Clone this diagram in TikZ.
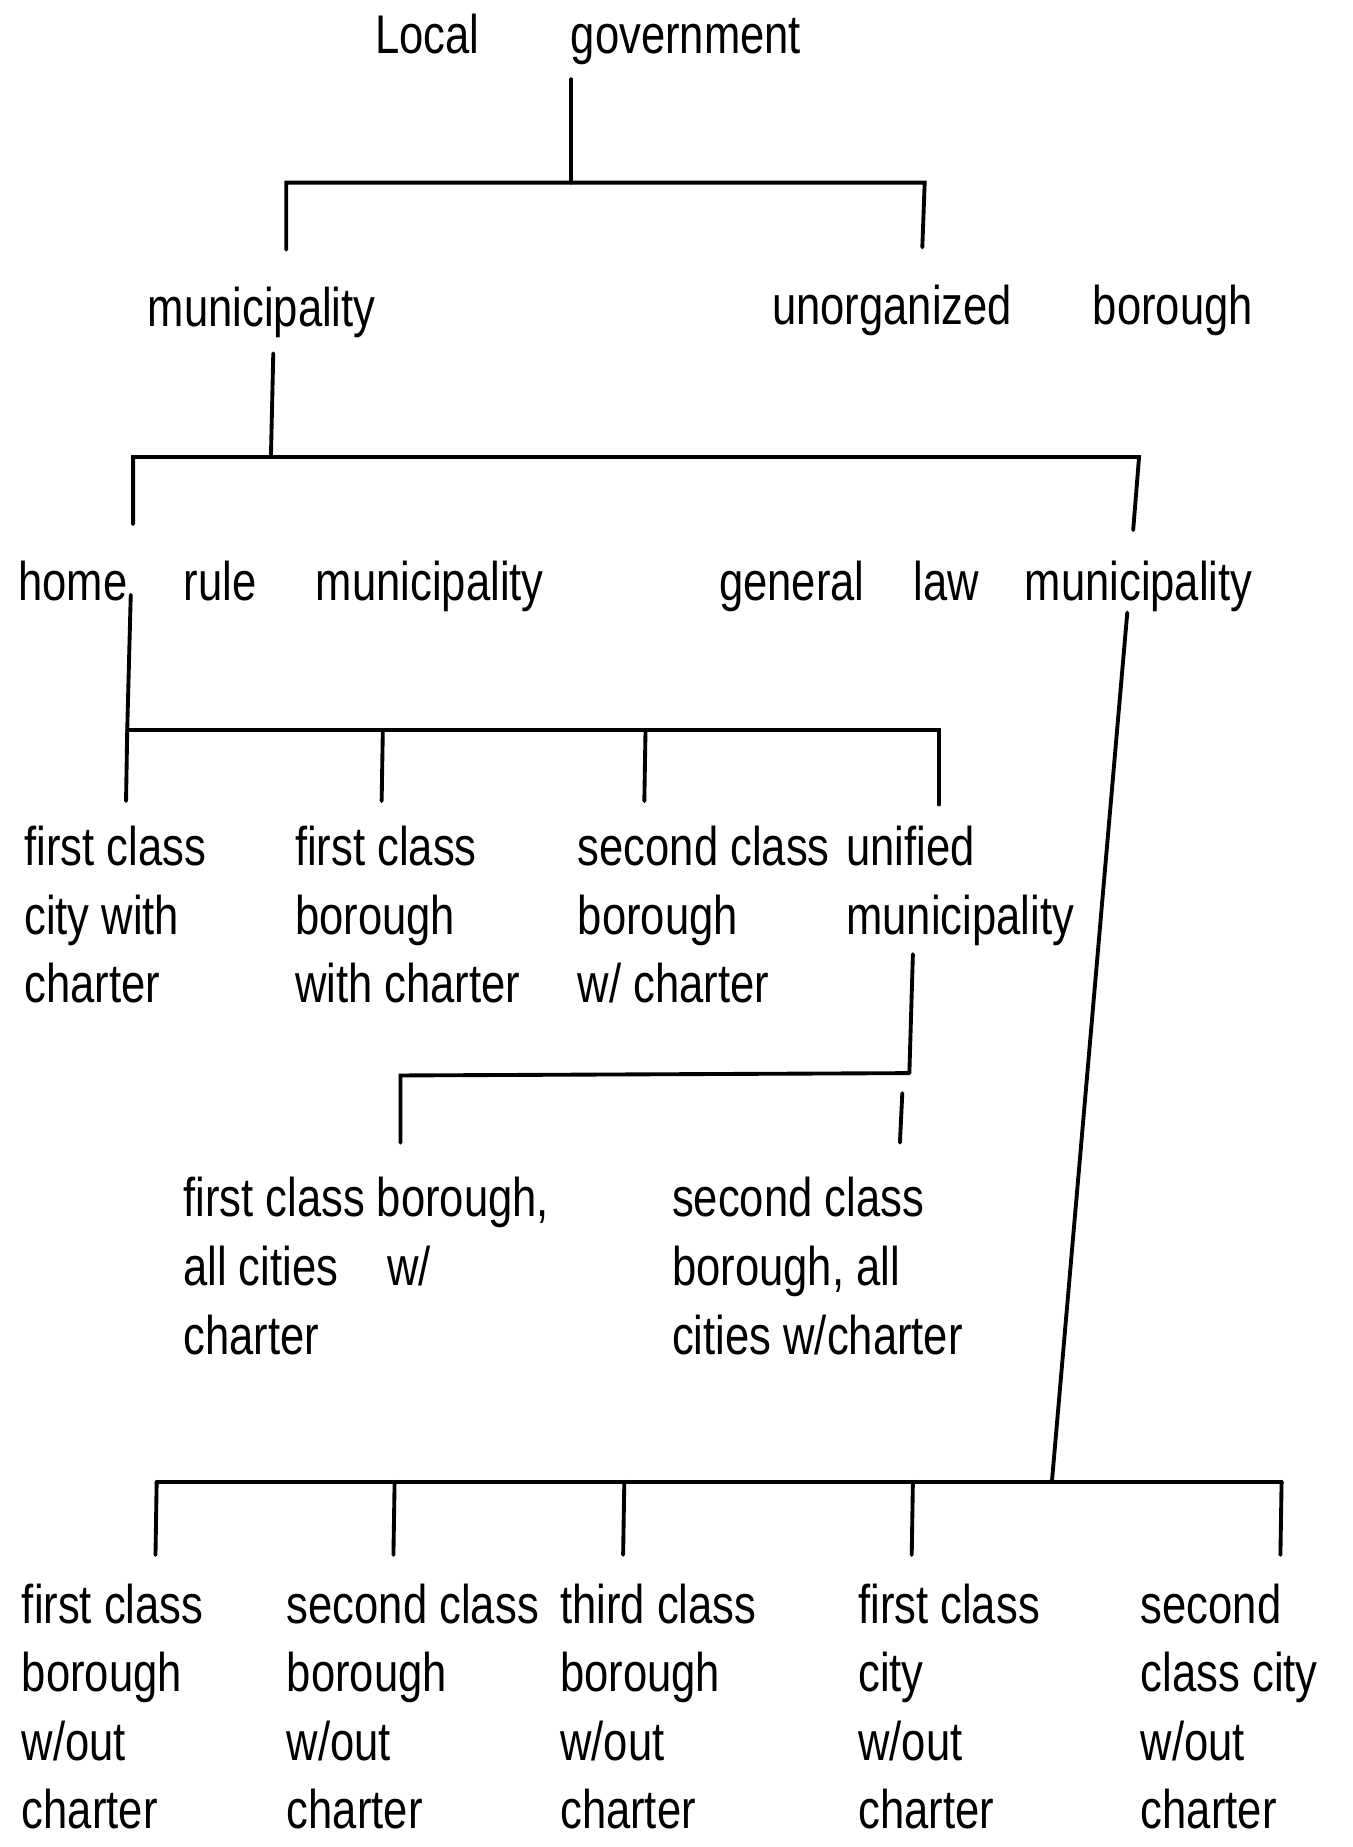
\documentclass[tikz,border=0pt]{standalone}
\usepackage{fontspec}
\setmainfont{Liberation Sans}[FakeStretch=0.8]
\usetikzlibrary{calc}

\begin{document}
\begin{tikzpicture}[x=0.011777cm, y=-0.011777cm,
  lbl/.style={anchor=north west, inner sep=0pt, align=left, font=\fontsize{15.5}{19.5}\selectfont},
  conn/.style={line width=1.1pt, line cap=round}]
  \useasboundingbox (0,0) rectangle (1148,1568);

  % levels 1 and 2
  \node[lbl] (lg) at (318,11) {Local\hspace{26pt}government};
  \node[lbl] (muni) at (125,243) {municipality};
  \node[lbl] (unorg) at (655,241) {unorganized\hspace{23pt}borough};
  \node[lbl] (home) at (15,476) {home\hspace{16pt}rule\hspace{17pt}municipality};
  \node[lbl] (genlaw) at (610,476) {general\hspace{14pt}law\hspace{13pt}municipality};

  % home rule branch
  \node[lbl] (hfc) at (20,701) {first class\\city with\\charter};
  \node[lbl] (hfb) at (250,701) {first class\\borough\\with charter};
  \node[lbl] (hsb) at (490,701) {second class\\borough\\w/ charter};
  \node[lbl] (unif) at (718,701) {unified\\municipality};
  \node[lbl] (ufb) at (155,999) {first class borough,\\all cities\hspace{14pt}w/\\charter};
  \node[lbl] (usb) at (570,999) {second class\\borough, all\\cities w/charter};

  % general law branch
  \node[lbl] (gfb) at (18,1344) {first class\\borough\\w/out\\charter};
  \node[lbl] (gsb) at (243,1344) {second class\\borough\\w/out\\charter};
  \node[lbl] (gtb) at (475,1344) {third class\\borough\\w/out\\charter};
  \node[lbl] (gfc) at (728,1344) {first class\\city\\w/out\\charter};
  \node[lbl] (gsc) at (968,1344) {second\\class city\\w/out\\charter};

  % junctions
  \coordinate (j1) at (485,155);
  \coordinate (j2) at (230,388);
  \coordinate (j3) at (108,620);
  \coordinate (j4) at (772,911);
  \coordinate (j5) at (893,1258);

  % connectors
  \draw[conn] (lg.south -| j1) ++(0,12) -- (j1);
  \draw[conn] (243,212) -- (243,155) -- (785,155) -- (783,210);

  \draw[conn] (232,300) -- (j2);
  \draw[conn] (113,445) -- (113,388) -- (967,388) -- (962,450);

  \draw[conn] (111,505) -- (j3);
  \draw[conn] (j3) -- (797,620) -- (797,683);
  \foreach \xx in {108,325,548} {
    \draw[conn] (\xx,620) -- (\xx-1,680);
  }

  \draw[conn] (775,810) -- (j4);
  \draw[conn] (340,970) -- (340,913) -- (j4);
  \draw[conn] (766,928) -- (764,970);

  \draw[conn] (957,520) -- (j5);
  \draw[conn] (133,1258) -- (1088,1258);
  \foreach \xx in {133,335,530,775,1088} {
    \draw[conn] (\xx,1258) -- (\xx-1,1320);
  }
\end{tikzpicture}
\end{document}
